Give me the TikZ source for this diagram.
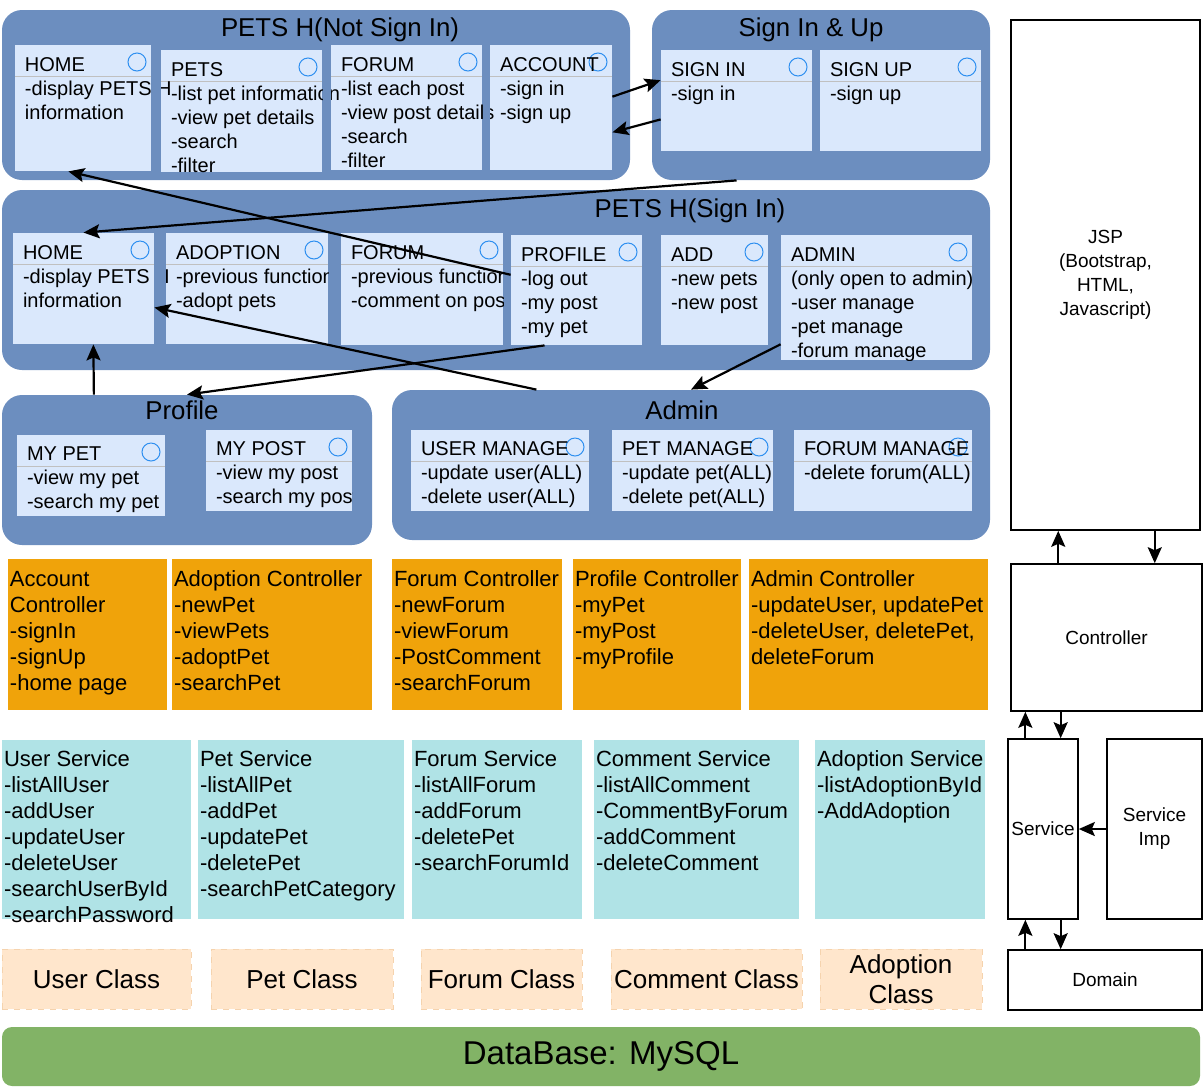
\documentclass[tikz,border=0pt]{standalone}
\usepackage{fontspec}
\setmainfont{Liberation Sans}
\usepackage{tikz}
\usetikzlibrary{arrows.meta}
\usetikzlibrary{fit}
\definecolor{grpblue}{HTML}{6C8EBF}
\definecolor{cardfill}{HTML}{DAE8FC}
\definecolor{headgray}{HTML}{C0C0C0}
\definecolor{dotblue}{HTML}{2E8FF0}
\definecolor{ctrlorange}{HTML}{F0A30A}
\definecolor{svcblue}{HTML}{B0E3E6}
\definecolor{classpeach}{HTML}{FFE6CC}
\definecolor{classedge}{HTML}{F5D3AE}
\definecolor{dbgreen}{HTML}{82B366}
\tikzstyle{every node}+=[inner sep=0pt]
\tikzstyle{group} = [rectangle, fill=grpblue, rounded corners=10pt]
\tikzstyle{gtitle} = [font=\fontsize{12.9}{15}\selectfont]
\tikzset{card/.style={rectangle, fill=cardfill, path picture={
  \draw[headgray, line width=0.5pt] ([yshift=-15.5pt]path picture bounding box.north west) -- ([yshift=-15.5pt]path picture bounding box.north east);
  \draw[dotblue, line width=0.5pt] ([shift={(-7pt,-8.5pt)}]path picture bounding box.north east) circle (4.5pt);}}}
\tikzstyle{cardtext} = [anchor=north west, align=left, font=\fontsize{10}{12}\selectfont, execute at begin node=\strut]
\tikzstyle{ctrl} = [rectangle, fill=ctrlorange]
\tikzstyle{svc} = [rectangle, fill=svcblue]
\tikzstyle{boxtext} = [anchor=north west, align=left, font=\fontsize{11}{13}\selectfont, execute at begin node=\strut]
\tikzstyle{cls} = [rectangle, fill=classpeach, draw=classedge, dashed, font=\fontsize{13}{15}\selectfont, align=center, minimum height=30pt]
\tikzstyle{db} = [rectangle, fill=dbgreen, rounded corners=5pt, font=\fontsize{16.5}{20}\selectfont, minimum width=599pt, minimum height=29.5pt]
\tikzstyle{tier} = [rectangle, draw, line width=0.8pt, font=\fontsize{9.5}{12}\selectfont, align=center]
\tikzstyle{line} = [draw, line width=1.1pt, -{Stealth[length=8pt, width=7pt, inset=1.5pt]}]
\begin{document}
\begin{tikzpicture}[x=0.5pt, y=-0.5pt]
  \useasboundingbox (0,0) rectangle (1203,1088);
  % Not signed in
  \node [group, fit={(2,10) (630,180)}] (g1) {};
  \node [gtitle] (g1t) at (340,30) {PETS H(Not Sign In)};
  \node [card, fit={(15,45) (151,171)}] (home1) {};
  \node [card, fit={(161,50) (322,172)}] (pets1) {};
  \node [card, fit={(331,45) (482,170)}] (forum1) {};
  \node [card, fit={(490,45) (612,170)}] (account1) {};
  \begin{scope}
    \clip (home1.north west) rectangle (home1.south east) (pets1.north west) rectangle (pets1.south east)
          (forum1.north west) rectangle (forum1.south east) (account1.north west) rectangle (account1.south east);
    \node [cardtext] (home1t) at ([shift={(10,13)}]home1.north west) {HOME\\-display PETS H\\information};
    \node [cardtext] (pets1t) at ([shift={(10,13)}]pets1.north west) {PETS\\-list pet information\\-view pet details\\-search\\-filter};
    \node [cardtext] (forum1t) at ([shift={(10,13)}]forum1.north west) {FORUM\\-list each post\\-view post details\\-search\\-filter};
    \node [cardtext] (account1t) at ([shift={(10,13)}]account1.north west) {ACCOUNT\\-sign in\\-sign up};
  \end{scope}
  % Sign in and sign up
  \node [group, fit={(652,10) (990,180)}] (g2) {};
  \node [gtitle] (g2t) at (811,30) {Sign In \& Up};
  \node [card, fit={(661,50) (812,151)}] (signin) {};
  \node [card, fit={(820,50) (981,151)}] (signup) {};
  \node [cardtext] (signint) at ([shift={(10,13)}]signin.north west) {SIGN IN\\-sign in};
  \node [cardtext] (signupt) at ([shift={(10,13)}]signup.north west) {SIGN UP\\-sign up};
  % Signed in
  \node [group, fit={(2,190) (990,370)}] (g3) {};
  \node [gtitle] (g3t) at (690,211) {PETS H(Sign In)};
  \node [card, fit={(13,233) (154,344)}] (home2) {};
  \node [card, fit={(166,233) (328,344)}] (adoption) {};
  \node [card, fit={(341,233) (503,345)}] (forum2) {};
  \node [card, fit={(511,235) (642,345)}] (profile) {};
  \node [card, fit={(661,235) (768,345)}] (add) {};
  \node [card, fit={(781,235) (972,360)}] (admin) {};
  \begin{scope}
    \clip (home2.north west) rectangle (home2.south east) (adoption.north west) rectangle (adoption.south east)
          (forum2.north west) rectangle (forum2.south east) (profile.north west) rectangle (profile.south east)
          (add.north west) rectangle (add.south east) (admin.north west) rectangle (admin.south east);
    \node [cardtext] (home2t) at ([shift={(10,13)}]home2.north west) {HOME\\-display PETS H\\information};
    \node [cardtext] (adoptiont) at ([shift={(10,13)}]adoption.north west) {ADOPTION\\-previous function\\-adopt pets};
    \node [cardtext] (forum2t) at ([shift={(10,13)}]forum2.north west) {FORUM\\-previous function\\-comment on post};
    \node [cardtext] (profilet) at ([shift={(10,13)}]profile.north west) {PROFILE\\-log out\\-my post\\-my pet};
    \node [cardtext] (addt) at ([shift={(10,13)}]add.north west) {ADD\\-new pets\\-new post};
    \node [cardtext] (admint) at ([shift={(10,13)}]admin.north west) {ADMIN\\(only open to admin)\\-user manage\\-pet manage\\-forum manage};
  \end{scope}
  % Profile
  \node [group, fit={(2,395) (372,545)}] (g4) {};
  \node [gtitle] (g4t) at (182,410) {Profile};
  \node [card, fit={(17,435) (165,516)}] (mypet) {};
  \node [card, fit={(206,430) (352,511)}] (mypost) {};
  \begin{scope}
    \clip (mypet.north west) rectangle (mypet.south east) (mypost.north west) rectangle (mypost.south east);
    \node [cardtext] (mypett) at ([shift={(10,12)}]mypet.north west) {MY PET\\-view my pet\\-search my pet};
    \node [cardtext] (mypostt) at ([shift={(10,12)}]mypost.north west) {MY POST\\-view my post\\-search my post};
  \end{scope}
  % Admin
  \node [group, fit={(392,390) (990,540)}] (g5) {};
  \node [gtitle] (g5t) at (682,410) {Admin};
  \node [card, fit={(411,430) (589,511)}] (usermng) {};
  \node [card, fit={(612,430) (773,511)}] (petmng) {};
  \node [card, fit={(794,430) (972,511)}] (forummng) {};
  \node [cardtext] (usermngt) at ([shift={(10,12)}]usermng.north west) {USER MANAGE\\-update user(ALL)\\-delete user(ALL)};
  \node [cardtext] (petmngt) at ([shift={(10,12)}]petmng.north west) {PET MANAGE\\-update pet(ALL)\\-delete pet(ALL)};
  \node [cardtext] (forummngt) at ([shift={(10,12)}]forummng.north west) {FORUM MANAGE\\-delete forum(ALL)};
  % Controllers
  \node [ctrl, fit={(8,559) (167,710)}] (cacc) {};
  \node [ctrl, fit={(172,559) (372,710)}] (cadopt) {};
  \node [ctrl, fit={(392,559) (562,710)}] (cforum) {};
  \node [ctrl, fit={(573,559) (741,710)}] (cprof) {};
  \node [ctrl, fit={(749,559) (988,710)}] (cadmin) {};
  \node [boxtext] (cacct) at ([shift={(2,12)}]cacc.north west) {Account\\Controller\\-signIn\\-signUp\\-home page};
  \node [boxtext] (cadoptt) at ([shift={(2,12)}]cadopt.north west) {Adoption Controller\\-newPet\\-viewPets\\-adoptPet\\-searchPet};
  \node [boxtext] (cforumt) at ([shift={(2,12)}]cforum.north west) {Forum Controller\\-newForum\\-viewForum\\-PostComment\\-searchForum};
  \node [boxtext] (cproft) at ([shift={(2,12)}]cprof.north west) {Profile Controller\\-myPet\\-myPost\\-myProfile};
  \node [boxtext] (cadmint) at ([shift={(2,12)}]cadmin.north west) {Admin Controller\\-updateUser, updatePet\\-deleteUser, deletePet,\\deleteForum};
  % Services
  \node [svc, fit={(2,740) (191,919)}] (suser) {};
  \node [svc, fit={(198,740) (404,919)}] (spet) {};
  \node [svc, fit={(412,740) (582,919)}] (sforum) {};
  \node [svc, fit={(594,740) (799,919)}] (scomm) {};
  \node [svc, fit={(815,740) (985,919)}] (sadopt) {};
  \node [boxtext] (susert) at ([shift={(2,11)}]suser.north west) {User Service\\-listAllUser\\-addUser\\-updateUser\\-deleteUser\\-searchUserById\\-searchPassword};
  \node [boxtext] (spett) at ([shift={(2,11)}]spet.north west) {Pet Service\\-listAllPet\\-addPet\\-updatePet\\-deletePet\\-searchPetCategory};
  \node [boxtext] (sforumt) at ([shift={(2,11)}]sforum.north west) {Forum Service\\-listAllForum\\-addForum\\-deletePet\\-searchForumId};
  \node [boxtext] (scommt) at ([shift={(2,11)}]scomm.north west) {Comment Service\\-listAllComment\\-CommentByForum\\-addComment\\-deleteComment};
  \node [boxtext] (sadoptt) at ([shift={(2,11)}]sadopt.north west) {Adoption Service\\-listAdoptionById\\-AddAdoption};
  % Classes and database
  \node [cls, minimum width=94.5pt] (kuser) at (96.5,979) {User Class};
  \node [cls, minimum width=91pt] (kpet) at (302,979) {Pet Class};
  \node [cls, minimum width=80.5pt] (kforum) at (501.5,979) {Forum Class};
  \node [cls, minimum width=95.5pt] (kcomm) at (706.5,979) {Comment Class};
  \node [cls, minimum width=81pt] (kadopt) at (901,979) {Adoption\\Class};
  \node [db] (db) at (601,1056.5) {DataBase: MySQL};
  % Layers
  \node [tier, minimum width=94.5pt, minimum height=255pt] (jsp) at (1105.5,275) {JSP\\(Bootstrap,\\HTML,\\Javascript)};
  \node [tier, minimum width=95.5pt, minimum height=73.5pt] (ctrl) at (1106.5,637.5) {Controller};
  \node [tier, minimum width=35pt, minimum height=90pt] (svc) at (1043,829) {Service};
  \node [tier, minimum width=47.5pt, minimum height=90pt] (simp) at (1154.5,829) {Service\\Imp};
  \node [tier, minimum width=97pt, minimum height=30pt] (dom) at (1105,980) {Domain};
  % Draw edges
  \path [line] (account1.10) -- (signin.165);
  \path [line] (signin.194) -- (account1.338);
  \path [line] (signin.center |- g2.south) -- (home2.north);
  \path [line] (profile.167) -- (home1.257);
  \path [line] (g5.154) -- (home2.345);
  \path [line] (g4.141) -- (home2.280);
  \path [line] (profile.240) -- (g4.north);
  \path [line] (admin.206) -- (g5.north);
  \path [line] (ctrl.123) -- (ctrl.123 |- jsp.south);
  \path [line] (jsp.south -| ctrl.57) -- (ctrl.57);
  \path [line] (svc.101) -- (svc.101 |- ctrl.south);
  \path [line] (ctrl.south -| svc.79) -- (svc.79);
  \path [line] (simp.west) -- (svc.east);
  \path [line] (dom.north -| svc.259) -- (svc.259);
  \path [line] (svc.281) -- (svc.281 |- dom.north);
\end{tikzpicture}
\end{document}
